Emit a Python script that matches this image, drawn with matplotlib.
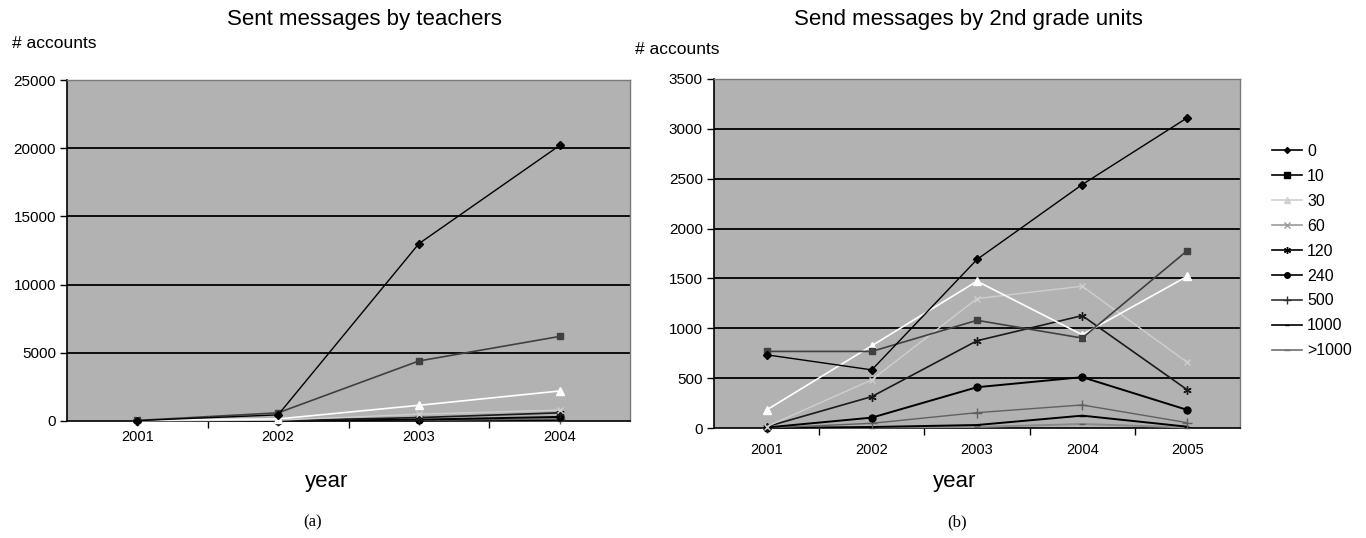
import matplotlib
matplotlib.use("Agg")
import matplotlib.pyplot as plt
from matplotlib.lines import Line2D

plt.rcParams['font.family'] = ['Liberation Sans', 'DejaVu Sans']

# ---- data ----
years_a = ['2001', '2002', '2003', '2004']
years_b = ['2001', '2002', '2003', '2004', '2005']
labels = ['0', '10', '30', '60', '120', '240', '500', '1000', '>1000']

a_0 = [30, 450, 13000, 20200]
a_10 = [40, 600, 4400, 6200]
a_30 = [60, 150, 1150, 2200]
a_60 = [10, 60, 500, 800]
a_120 = [5, 30, 250, 600]
a_240 = [2, 10, 100, 300]
a_500 = [1, 5, 50, 150]
a_1000 = [0, 2, 20, 60]
a_gt1000 = [0, 1, 10, 30]

b_0 = [734, 583, 1690, 2441, 3112]
b_10 = [768, 768, 1080, 902, 1780]
b_30 = [181, 825, 1472, 935, 1522]
b_60 = [13, 483, 1298, 1422, 657]
b_120 = [13, 315, 875, 1127, 382]
b_240 = [5, 104, 409, 510, 181]
b_500 = [0, 47, 154, 231, 53]
b_1000 = [0, 10, 30, 124, 13]
b_gt1000 = [0, 5, 10, 40, 5]

yticks_a = [0, 5000, 10000, 15000, 20000, 25000]
yticks_b = [0, 500, 1000, 1500, 2000, 2500, 3000, 3500]

series_a = [a_0, a_10, a_30, a_60, a_120, a_240, a_500, a_1000, a_gt1000]
series_b = [b_0, b_10, b_30, b_60, b_120, b_240, b_500, b_1000, b_gt1000]

# styles: (line colour, marker, marker size, marker face, linewidth)
styles = [
    ('black', 'D', 4, 'black', 1.0),
    ('#404040', 's', 5, '#404040', 1.2),
    ('white', '^', 6, 'white', 1.2),
    ('#cfcfcf', 'x', 5, '#cfcfcf', 1.0),
    ('#1a1a1a', (6, 2, 0), 6, '#1a1a1a', 1.2),
    ('black', 'o', 5, 'black', 1.4),
    ('#606060', '+', 7, '#606060', 1.0),
    ('black', '_', 4, 'black', 1.4),
    ('#8a8a8a', '_', 5, '#5a5a5a', 1.4),
]
legend_colors = ['black', 'black', '#d0d0d0', '#9a9a9a', 'black', 'black',
                 '#303030', 'black', '#707070']

fig = plt.figure(figsize=(13.66, 5.38), dpi=100)
face = '#b2b2b2'


def style_axes(ax, cats, yticks, xpad):
    ax.set_facecolor(face)
    n = len(cats)
    ax.set_xlim(-0.5, n - 0.5)
    ax.set_ylim(yticks[0], yticks[-1])
    ax.set_yticks(yticks)
    ax.set_yticklabels([str(t) for t in yticks], fontsize=11)
    ax.set_xticks(range(n))
    ax.set_xticklabels(cats, fontsize=10.5)
    ax.tick_params(axis='x', which='major', length=0, pad=xpad)
    ax.set_xticks([i + 0.5 for i in range(n - 1)], minor=True)
    ax.tick_params(axis='x', which='minor', length=5, width=1, direction='out')
    ax.tick_params(axis='y', length=5, width=1, direction='out', pad=3)
    for t in yticks[1:-1]:
        ax.axhline(t, color='black', lw=1.3, zorder=1)
    for s in ['left', 'bottom']:
        ax.spines[s].set_color('black')
        ax.spines[s].set_linewidth(1.2)
    for s in ['top', 'right']:
        ax.spines[s].set_color('#7a7a7a')
        ax.spines[s].set_linewidth(1.0)


def draw(ax, series, n):
    x = list(range(n))
    for vals, (c, m, ms, mf, lw) in reversed(list(zip(series, styles))):
        ax.plot(x, vals, color=c, marker=m, markersize=ms, markerfacecolor=mf,
                markeredgecolor=mf, lw=lw, zorder=3, clip_on=False)


ax1 = fig.add_axes([67 / 1366, 1 - 421 / 538, 563 / 1366, 341 / 538])
style_axes(ax1, years_a, yticks_a, 6.5)
draw(ax1, series_a, len(years_a))

ax2 = fig.add_axes([714 / 1366, 1 - 428 / 538, 526 / 1366, 349 / 538])
style_axes(ax2, years_b, yticks_b, 11)
draw(ax2, series_b, len(years_b))

# titles and labels
fig.text(364 / 1366, 1 - 20 / 538, 'Sent messages by teachers', ha='center', va='center', fontsize=16)
fig.text(968 / 1366, 1 - 20 / 538, 'Send messages by 2nd grade units', ha='center', va='center', fontsize=16)
fig.text(12 / 1366, 1 - 44 / 538, '# accounts', ha='left', va='center', fontsize=12.5)
fig.text(635 / 1366, 1 - 50 / 538, '# accounts', ha='left', va='center', fontsize=12.5)
fig.text(327 / 1366, 1 - 482 / 538, 'year', ha='center', va='center', fontsize=16)
fig.text(955 / 1366, 1 - 482 / 538, 'year', ha='center', va='center', fontsize=16)
fig.text(313 / 1366, 1 - 522 / 538, '(a)', ha='center', va='center', fontsize=12,
         family=['Liberation Serif', 'DejaVu Serif'])
fig.text(957 / 1366, 1 - 522 / 538, '(b)', ha='center', va='center', fontsize=12,
         family=['Liberation Serif', 'DejaVu Serif'])

handles = []
for (c, m, ms, mf, lw), lc in zip(styles, legend_colors):
    handles.append(Line2D([], [], color=lc, marker=m, markersize=ms - 1,
                          markerfacecolor=lc, markeredgecolor=lc, lw=1.2))
fig.legend(handles, labels, loc='upper left', bbox_to_anchor=(1272 / 1366, 1 - 144 / 538),
           frameon=False, fontsize=11.5, handlelength=1.9, handletextpad=0.3,
           labelspacing=0.62, borderaxespad=0, borderpad=0)

fig.savefig('out.png', dpi=100, facecolor='white')
